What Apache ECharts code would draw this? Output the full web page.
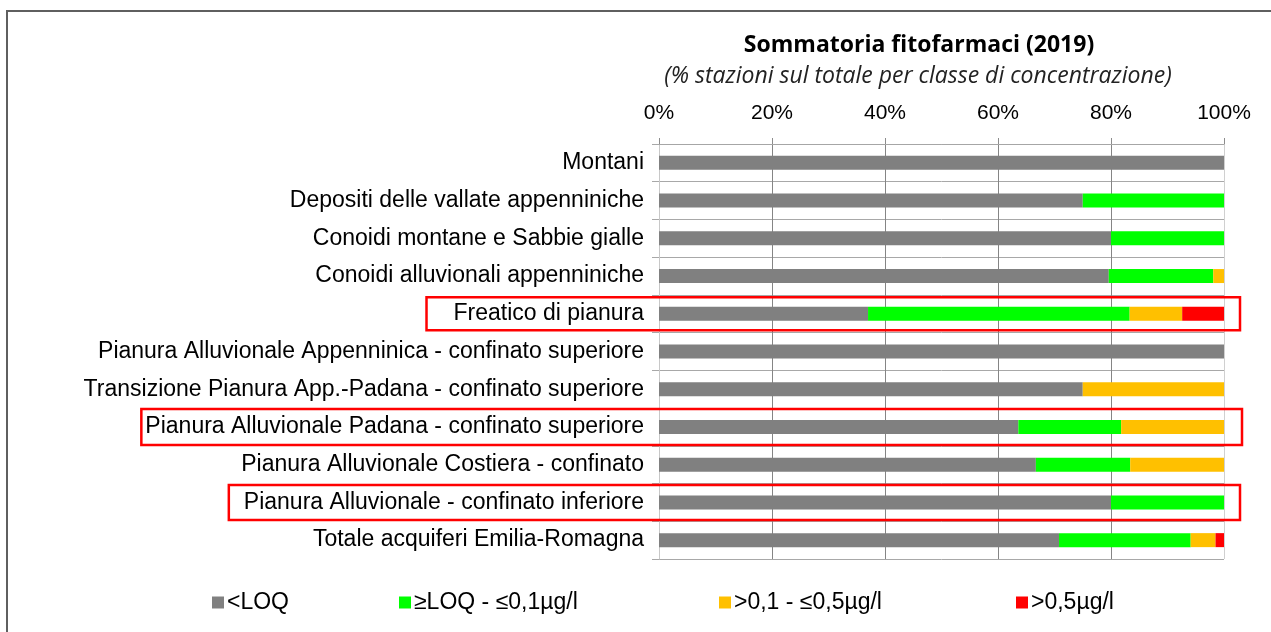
<!DOCTYPE html>
<html>
<head>
<meta charset="utf-8">
<script src="https://cdn.jsdelivr.net/npm/echarts@6/dist/echarts.min.js"></script>
<style>
  html, body { margin: 0; padding: 0; background: #fff; }
  #chart { width: 1271px; height: 632px; }
</style>
</head>
<body>
<div id="chart"></div>
<script>
// Aquifer groups (top to bottom)
const categories = [
  'Montani',
  'Depositi delle vallate appenniniche',
  'Conoidi montane e Sabbie gialle',
  'Conoidi alluvionali appenniniche',
  'Freatico di pianura',
  'Pianura Alluvionale Appenninica - confinato superiore',
  'Transizione Pianura App.-Padana - confinato superiore',
  'Pianura Alluvionale Padana - confinato superiore',
  'Pianura Alluvionale Costiera - confinato',
  'Pianura Alluvionale - confinato inferiore',
  'Totale acquiferi Emilia-Romagna'
];

// Share of stations (%) per concentration class
const belowLoq   = [100, 75.0, 80.0, 79.6, 37.0, 100, 75.0, 63.6, 66.7, 80.0, 70.8];
const loqTo01    = [0,   25.0, 20.0, 18.5, 46.3, 0,   0,    18.2, 16.7, 20.0, 23.3];
const from01To05 = [0,   0,    0,    1.9,  9.3,  0,   25.0, 18.2, 16.6, 0,    4.4];
const above05    = [0,   0,    0,    0,    7.4,  0,   0,    0,    0,    0,    1.5];

const seriesNames = ['<LOQ', '\u2265LOQ - \u22640,1\u00b5g/l', '>0,1 - \u22640,5\u00b5g/l', '>0,5\u00b5g/l'];
const axisTicks = [0, 20, 40, 60, 80, 100];

// Groups outlined in red
const highlighted = [
  'Freatico di pianura',
  'Pianura Alluvionale Padana - confinato superiore',
  'Pianura Alluvionale - confinato inferiore'
];

const colors = ['#808080', '#00ff00', '#ffc000', '#ff0000'];
const labelFont = '23px "Liberation Sans", Arial, sans-serif';
const labelMargin = 15;
const gridLeft = 659, gridRight = 47, gridTop = 144, gridBottom = 73;
const legendLefts = [212, 399, 719, 1016];

const chart = echarts.init(document.getElementById('chart'), null, { renderer: 'canvas' });

const values = [belowLoq, loqTo01, from01To05, above05];

const option = {
  animation: false,
  backgroundColor: '#ffffff',
  title: [
    {
      text: 'Sommatoria fitofarmaci (2019)',
      left: 914, top: 29, textAlign: 'center',
      textStyle: { fontFamily: '"Open Sans"', fontWeight: 'bold', fontSize: 23, color: '#000' }
    },
    {
      text: '(% stazioni sul totale per classe di concentrazione)',
      left: 913, top: 60, textAlign: 'center',
      textStyle: { fontFamily: '"Open Sans"', fontStyle: 'italic', fontWeight: 'normal', fontSize: 23, color: '#222' }
    }
  ],
  legend: seriesNames.map((name, i) => ({
    left: legendLefts[i], top: 591, padding: 0,
    itemWidth: 12, itemHeight: 12,
    icon: 'rect',
    textStyle: { fontFamily: '"Liberation Sans", Arial', fontSize: 23, color: '#000', padding: [0, 0, 0, -2] },
    data: [name]
  })),
  grid: { left: gridLeft, right: gridRight, top: gridTop, bottom: gridBottom, containLabel: false },
  xAxis: {
    type: 'value', position: 'top',
    min: 0, max: 100, interval: 20,
    axisLabel: {
      formatter: v => axisTicks.includes(v) ? v + '%' : '',
      fontFamily: '"Liberation Sans", Arial', fontSize: 21, color: '#000', margin: 20
    },
    axisLine: { show: true, lineStyle: { color: '#a6a6a6' } },
    axisTick: { show: true, length: 6, lineStyle: { color: '#8c8c8c' } },
    splitLine: { show: true, lineStyle: { color: ['#c8c8c8', '#858585', '#858585', '#858585', '#858585', '#d0d0d0'], width: 1 } }
  },
  yAxis: {
    type: 'category', inverse: true,
    data: categories,
    axisLabel: { fontFamily: '"Liberation Sans", Arial', fontSize: 23, color: '#000', margin: labelMargin },
    axisLine: { show: true, lineStyle: { color: '#c8c8c8' } },
    axisTick: { show: true, length: 7, lineStyle: { color: '#a8a8a8' } },
    splitLine: { show: true, lineStyle: { color: '#a8a8a8', width: 1 } }
  },
  series: values.map((arr, i) => ({
    name: seriesNames[i],
    type: 'bar',
    stack: 'total',
    barWidth: 14,
    itemStyle: { color: colors[i] },
    data: arr
  }))
};

chart.setOption(option);

// Border around the whole figure plus red outlines around selected groups
function measure(text, font) {
  const ctx = document.createElement('canvas').getContext('2d');
  ctx.font = font;
  return ctx.measureText(text).width;
}

const boxStyle = {
  'Freatico di pianura': { padLeft: 27, padRight: 16, height: 33 },
  'Pianura Alluvionale Padana - confinato superiore': { padLeft: 4, padRight: 18, height: 36 },
  'Pianura Alluvionale - confinato inferiore': { padLeft: 15, padRight: 16, height: 35 }
};

const graphics = [{
  type: 'rect', silent: true,
  shape: { x: 7, y: 11, width: 1300, height: 700 },
  style: { fill: null, stroke: '#5f5f5f', lineWidth: 2 }
}];

const plotRight = 1271 - gridRight;
highlighted.forEach(name => {
  const s = boxStyle[name];
  const cy = chart.convertToPixel({ yAxisIndex: 0 }, name);
  const textRight = gridLeft - labelMargin;
  const left = textRight - measure(name, labelFont) - s.padLeft;
  const right = plotRight + s.padRight;
  graphics.push({
    type: 'rect', silent: true, z: 100,
    shape: { x: left, y: cy - s.height / 2, width: right - left, height: s.height },
    style: { fill: null, stroke: '#ff0000', lineWidth: 2.5 }
  });
});

chart.setOption({ graphic: graphics });
</script>
</body>
</html>
